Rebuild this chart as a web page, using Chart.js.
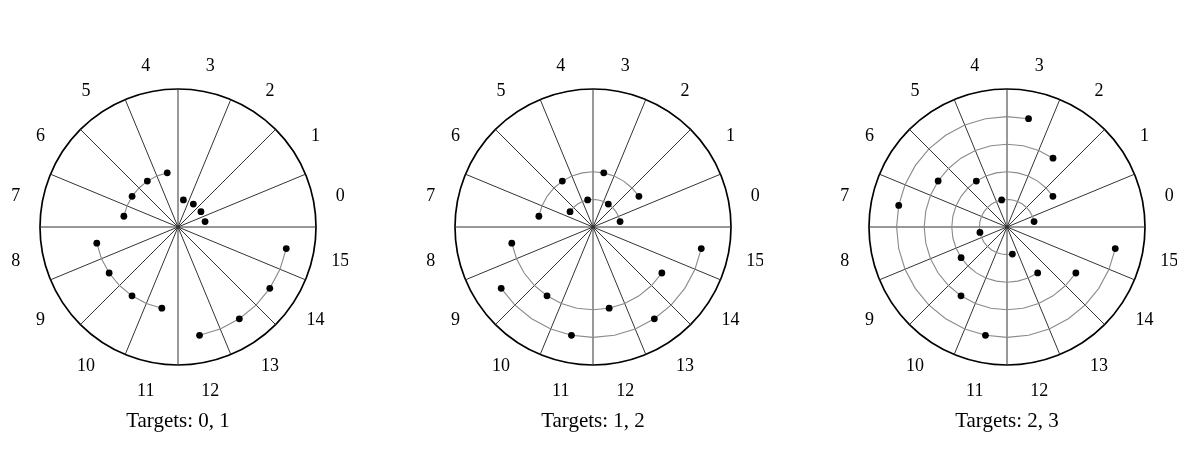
<!DOCTYPE html>
<html>
<head>
<meta charset="utf-8">
<script src="https://cdn.jsdelivr.net/npm/chart.js@4"></script>
<style>
body { margin: 0; background: #fff; width: 1199px; height: 463px; position: relative; overflow: hidden; }
canvas { position: absolute; top: 0; }
</style>
</head>
<body>
<canvas id="polar0" width="340" height="463" style="left:8px"></canvas>
<canvas id="polar1" width="340" height="463" style="left:423px"></canvas>
<canvas id="polar2" width="340" height="463" style="left:837px"></canvas>
<script>
const SECTORS = [0, 1, 2, 3, 4, 5, 6, 7, 8, 9, 10, 11, 12, 13, 14, 15];
const TITLES = ['Targets: 0, 1', 'Targets: 1, 2', 'Targets: 2, 3'];

// ring (1..4) of the dot in each sector 0..15
const RINGS_A = [1, 1, 1, 1, 2, 2, 2, 2, 3, 3, 3, 3, 4, 4, 4, 4];
const RINGS_B = [1, 2, 1, 2, 1, 2, 1, 2, 3, 4, 3, 4, 3, 4, 3, 4];
const RINGS_C = [1, 2, 3, 4, 1, 2, 3, 4, 1, 2, 3, 4, 1, 2, 3, 4];

// gray arcs: [ring, first sector, last sector], counter-clockwise
const ARCS_A = [[2, 4, 7], [3, 8, 11], [4, 12, 15]];
const ARCS_B = [[1, 0, 6], [2, 1, 7], [3, 8, 14], [4, 9, 15]];
const ARCS_C = [[1, 0, 12], [2, 1, 13], [3, 2, 14], [4, 3, 15]];

const RING_MAX = 5;

const SERIF = "'Liberation Serif', 'DejaVu Serif', serif";

// radar scale runs clockwise from the top, half-sector steps:
// even slots are the sector borders, odd slots the sector centres
const N = SECTORS.length * 2;
const slot = s => ((2 * (3 - s) + 1) % N + N) % N;

const labels = new Array(N).fill('');
SECTORS.forEach(s => labels[slot(s)] = String(s));

const sectorLabels = {
    id: 'sectorLabels',
    afterDraw(chart) {
        const r = chart.scales.r;
        const ctx = chart.ctx;
        ctx.save();
        ctx.font = '18px ' + SERIF;
        ctx.fillStyle = '#000';
        ctx.textAlign = 'center';
        ctx.textBaseline = 'middle';
        chart.data.labels.forEach((t, i) => {
            if (!t)
                return;
            const p = r.getPointPosition(i, r.drawingArea + 27.5);
            ctx.fillText(t, p.x, p.y + 1.5);
        });
        ctx.restore();
    }
};

const desenhar = (id, titulo, rings, arcs) => {
    const pontos = new Array(N).fill(null);
    SECTORS.forEach(s => pontos[slot(s)] = rings[s]);

    const datasets = [{
        data: pontos,
        showLine: false,
        borderWidth: 0,
        pointRadius: 3.4,
        pointBorderWidth: 0,
        pointBackgroundColor: '#000',
        fill: false
    }];

    arcs.forEach(([ring, de, ate]) => {
        const linha = new Array(N).fill(null);
        for (let s = de; s <= ate; s++) {
            linha[slot(s)] = ring;
            if (s < ate)
                linha[(slot(s) - 1 + N) % N] = ring;
        }
        datasets.push({
            data: linha,
            borderColor: '#8a8a8a',
            borderWidth: 1.1,
            pointRadius: 0,
            fill: false,
            spanGaps: false,
            tension: 0
        });
    });

    new Chart(document.querySelector('#' + id), {
        type: 'radar',
        data: { labels, datasets },
        options: {
            responsive: false,
            animation: false,
            layout: { padding: { left: 32, right: 32, top: 89, bottom: 28.7 } },
            plugins: {
                legend: { display: false },
                tooltip: { enabled: false },
                title: {
                    display: true,
                    position: 'bottom',
                    text: titulo,
                    color: '#000',
                    font: { family: SERIF, size: 21, weight: 'normal' },
                    padding: { top: 44, bottom: 0 }
                }
            },
            scales: {
                r: {
                    min: 0,
                    max: RING_MAX,
                    ticks: { display: false, stepSize: RING_MAX },
                    grid: { color: '#000', lineWidth: 1.7, circular: true },
                    angleLines: {
                        color: c => c.index % 2 ? 'rgba(0,0,0,0)' : '#333',
                        lineWidth: c => c.index % 2 ? 0 : 1
                    },
                    pointLabels: { display: false }
                }
            }
        },
        plugins: [sectorLabels]
    });
};

desenhar('polar0', TITLES[0], RINGS_A, ARCS_A);
desenhar('polar1', TITLES[1], RINGS_B, ARCS_B);
desenhar('polar2', TITLES[2], RINGS_C, ARCS_C);
</script>
</body>
</html>
